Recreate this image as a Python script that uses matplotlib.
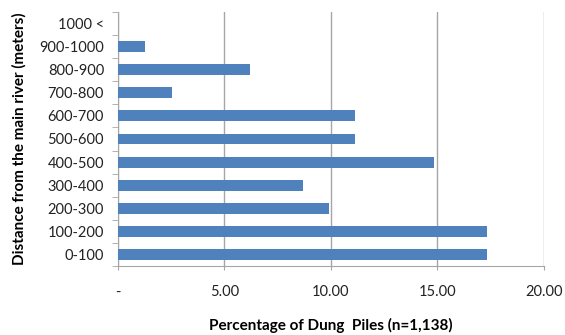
import numpy as np
import matplotlib.pyplot as plt
from matplotlib.ticker import FixedLocator

# distance bands from the main river, bottom to top
bands = ["0-100", "100-200", "200-300", "300-400", "400-500", "500-600",
         "600-700", "700-800", "800-900", "900-1000", "1000 <"]
# percentage of dung piles in each band
pct = [17.33, 17.33, 9.93, 8.68, 14.85, 11.15, 11.15, 2.52, 6.20, 1.28, 0.0]

xticks = [0, 5, 10, 15, 20]
xticklabels = ["-", "5.00", "10.00", "15.00", "20.00"]

plt.rcParams['font.family'] = ['Lato', 'DejaVu Sans']

fig = plt.figure(figsize=(5.65, 3.35), dpi=100)
ax = fig.add_axes([118/565, 1 - 266/335, (543.7-118)/565, (266-12)/335])

y = np.arange(len(bands))
ax.barh(y, pct, height=0.47, color="#4F81BD", zorder=3)

ax.set_xlim(0, 20)
ax.set_ylim(-0.5, len(bands) - 0.5)

# vertical grid lines
ax.set_xticks(xticks)
ax.set_xticklabels(xticklabels, fontsize=10.5, color="#222222")
ax.grid(axis="x", color="#a6a6a6", linewidth=1.0, zorder=0)
ax.tick_params(axis="x", length=3, color="#a6a6a6", pad=11)

# category labels centered, tick marks between categories
ax.set_yticks(y)
ax.set_yticklabels(bands, fontsize=10.5, color="#222222")
ax.yaxis.set_minor_locator(FixedLocator(np.arange(-0.5, len(bands), 1)))
ax.tick_params(axis="y", which="major", length=0, pad=10)
ax.tick_params(axis="y", which="minor", length=4, color="#a6a6a6")

for side in ["top", "right"]:
    ax.spines[side].set_visible(False)
for side in ["left", "bottom"]:
    ax.spines[side].set_color("#a6a6a6")

ax.set_xlabel("Percentage of Dung  Piles (n=1,138)", fontsize=11, fontweight="bold", labelpad=13)
ax.set_ylabel("Distance from the main river (meters)", fontsize=11, fontweight="bold", labelpad=9)

fig.savefig("out.png", dpi=100)
